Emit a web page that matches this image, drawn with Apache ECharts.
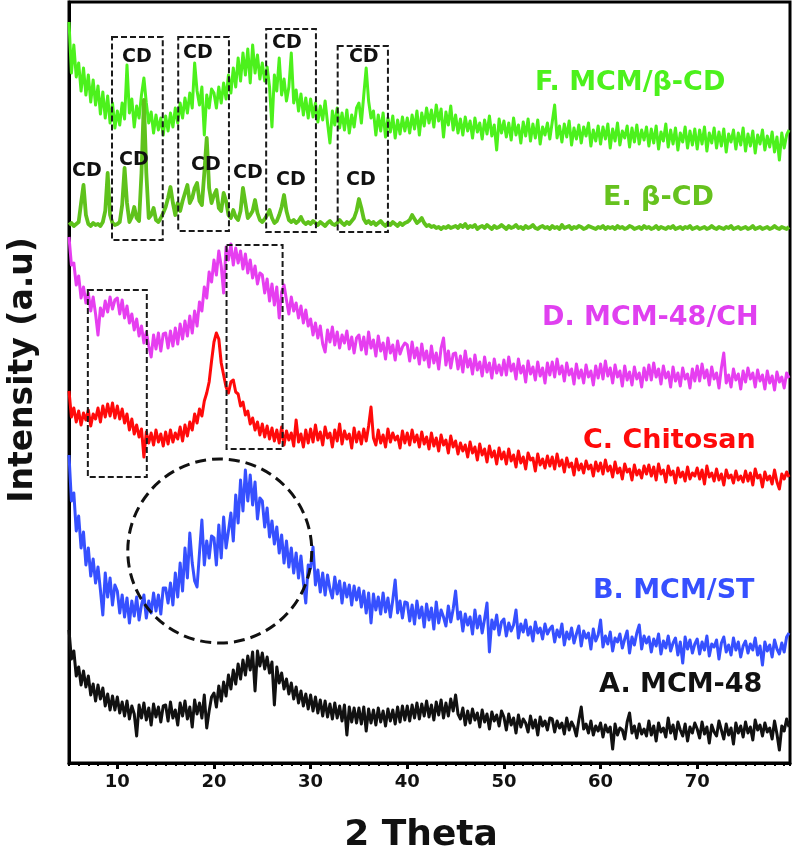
<!DOCTYPE html>
<html><head><meta charset="utf-8">
<script src="https://cdn.jsdelivr.net/npm/echarts@6/dist/echarts.min.js"></script>
<style>html,body{margin:0;padding:0;background:#fff}#c{width:798px;height:853px}</style>
</head><body><div id="c"></div>
<script>
// 2θ grid: first point and step (degrees)
const xStart = 5, xStep = 0.25;
const xTickValues = [10, 20, 30, 40, 50, 60, 70];

const seriesNames = ['F. MCM/β-CD', 'E. β-CD', 'D. MCM-48/CH', 'C. Chitosan', 'B. MCM/ST', 'A. MCM-48'];

// Intensities (a.u., stacked offsets as in the figure), one value per 0.25°, 5° .. 79.5°
const sF = [
741,690,718,686,700,672,695,668,688,661,683,658,677,649,671,645,667,640,660,635,
652,638,660,644,698,650,664,636,657,645,668,685,660,640,651,630,648,633,645,628,
647,632,650,636,655,640,660,645,665,650,670,655,700,672,658,676,628,668,655,674,
670,655,676,660,680,664,688,670,695,676,705,682,710,688,714,680,718,690,708,684,
700,682,696,676,636,688,672,705,668,684,662,676,710,660,673,652,669,648,665,645,
664,646,660,641,657,643,662,640,620,652,638,655,635,650,633,653,630,648,636,655,
660,640,668,695,662,645,652,628,648,632,650,626,645,631,647,625,643,629,646,632,
645,630,648,634,652,628,650,637,655,640,653,636,658,642,654,626,651,638,657,633,
648,630,644,628,646,632,642,625,645,631,640,624,643,629,647,627,638,613,644,630,
642,626,640,623,645,628,638,620,641,627,644,622,639,625,643,619,636,628,640,624,
641,658,625,637,621,639,626,642,618,635,624,638,620,636,627,640,617,633,622,637,
619,636,624,639,615,634,622,640,618,632,625,637,616,635,621,638,619,633,623,636,
617,634,620,637,614,631,622,639,616,633,619,635,613,630,621,636,615,632,618,634,
614,633,619,636,612,630,620,635,615,631,617,634,611,629,621,633,614,630,618,635,
612,629,617,632,610,628,619,633,613,627,616,631,611,626,603,630,615,628,633];
const sE = [
538,540,537,539,541,560,578,548,539,537,540,538,539,537,541,552,590,548,540,538,
539,541,558,595,560,541,546,556,545,542,590,663,590,545,548,555,543,541,545,550,
556,565,576,560,548,560,552,562,570,578,560,565,575,580,562,558,590,625,575,560,
568,573,555,552,570,562,548,545,553,546,543,552,575,560,545,548,552,563,550,543,
541,544,548,553,545,540,542,548,556,568,552,543,541,543,540,542,546,541,539,541,
539,542,540,538,541,539,537,540,542,539,538,540,543,540,538,541,539,542,545,552,
564,555,544,540,542,539,541,538,540,542,539,537,540,538,541,539,537,540,538,540,
541,543,548,544,540,542,545,540,537,538,536,537,535,536,534,536,535,537,535,536,
537,535,538,536,539,535,537,536,538,534,536,537,535,538,536,534,537,535,536,538,
536,534,537,535,536,538,535,536,534,537,535,536,538,535,534,536,537,535,536,534,
537,535,536,534,538,535,536,537,534,536,535,537,536,534,535,537,536,535,534,536,
535,537,534,536,535,536,534,537,535,536,534,535,537,536,534,535,536,534,537,535,
536,534,535,537,534,536,535,534,536,535,537,534,535,536,534,536,535,537,534,535,
536,534,535,536,534,535,537,535,534,536,535,534,536,535,537,534,535,536,534,535,
536,534,535,537,534,535,536,534,535,536,534,535,537,535,534,536,535,534,536];
const sD = [
526,498,500,478,487,465,476,460,470,452,466,449,428,455,447,462,451,466,454,463,
465,449,463,445,457,440,449,433,444,427,437,420,431,417,406,428,414,430,412,429,
430,415,432,417,435,419,439,424,442,427,447,430,452,437,461,452,476,465,491,481,
503,488,512,497,470,516,503,519,498,515,500,512,494,509,490,503,485,497,479,490,
488,470,484,462,479,458,476,445,471,478,463,449,466,452,460,445,457,440,453,437,
444,428,440,425,437,419,411,433,421,436,418,431,415,428,420,432,414,426,410,425,
428,413,426,409,431,415,423,407,427,412,420,404,425,410,418,403,422,409,416,420,
418,402,421,405,415,399,419,403,412,396,417,400,410,394,415,425,398,412,395,409,
410,394,407,391,412,396,404,389,408,393,401,387,406,391,400,385,404,390,398,388,
403,388,406,392,399,384,404,390,397,381,402,389,396,383,401,387,395,380,400,388,
401,386,404,389,397,382,400,388,394,379,399,385,393,380,398,386,392,378,397,385,
399,384,402,387,395,380,398,386,392,377,397,383,391,378,396,384,390,376,395,383,
398,383,400,386,394,379,397,385,391,376,396,382,390,377,395,384,389,375,394,382,
397,382,399,385,393,378,396,384,390,375,395,410,380,388,376,394,383,389,374,392,
381,395,384,390,376,393,382,388,374,392,380,387,373,391,381,386,375,390,385];
const sC = [
372,346,355,341,352,338,350,343,353,337,349,344,355,341,357,346,359,347,360,345,
357,344,354,340,349,333,344,329,338,326,334,306,331,320,330,318,333,321,329,317,
331,319,333,321,330,324,336,322,338,327,341,333,349,340,354,347,362,370,381,402,
421,430,424,400,388,376,370,381,383,371,369,357,361,348,352,339,345,333,341,328,
339,326,337,324,335,322,333,320,336,318,332,323,330,317,343,321,329,316,333,320,
334,321,338,323,331,318,336,325,330,316,333,322,339,319,332,324,329,315,335,321,
331,319,334,322,337,356,325,318,333,320,328,316,334,321,330,323,327,315,332,320,
330,318,333,321,328,316,331,319,326,314,330,317,325,312,328,318,323,310,327,316,
322,309,320,312,318,306,321,310,316,303,319,308,314,301,317,306,312,299,315,304,
311,299,314,302,308,296,312,300,306,294,310,303,305,292,309,298,304,295,307,297,
306,294,309,297,303,291,305,296,300,288,304,293,299,290,302,294,298,287,301,292,
300,289,303,292,297,286,301,290,295,284,299,291,294,283,298,288,293,285,297,289,
298,287,296,283,299,289,293,281,297,288,292,280,295,286,291,282,296,284,290,287,
295,284,293,279,297,286,290,282,294,283,289,278,293,285,288,280,292,283,287,281,
292,282,290,278,294,285,288,276,291,283,287,279,293,281,274,289,284,291,286];
const sB = [
308,262,270,232,247,215,231,198,215,187,204,180,196,173,148,190,166,185,158,178,
172,150,168,146,165,140,162,147,166,143,158,168,145,162,150,170,152,168,149,175,
175,160,180,158,190,166,200,172,215,185,230,200,182,176,210,243,198,222,205,227,
225,198,238,205,246,215,232,250,222,268,240,283,252,293,262,288,258,281,244,265,
262,236,255,226,242,219,236,210,228,200,222,196,215,190,210,185,207,181,160,198,
195,216,178,193,171,190,168,188,174,165,186,169,182,160,180,166,178,158,177,163,
175,156,172,150,170,140,169,153,166,149,170,151,165,146,163,183,150,162,145,161,
160,142,158,139,162,145,156,136,159,143,155,134,161,140,153,146,137,157,141,154,
172,144,151,132,149,138,146,129,153,135,147,130,144,160,111,143,134,148,128,141,
144,127,140,132,138,153,125,139,131,143,128,136,122,141,130,135,124,139,129,134,
137,121,133,126,139,118,131,124,135,120,129,137,117,132,125,130,114,134,122,128,
143,116,127,119,131,112,125,121,129,115,124,132,110,126,118,130,138,114,127,120,
126,111,124,117,129,109,122,115,127,112,120,125,108,121,100,126,114,123,110,119,
124,109,121,113,127,107,119,116,123,104,120,126,111,118,108,125,113,121,106,117,
122,110,119,113,125,108,117,98,121,112,118,106,123,114,109,120,111,126,130];
const sA = [
133,104,112,87,96,78,92,76,87,68,79,62,78,64,75,57,69,53,67,53,
66,50,61,47,62,44,57,49,27,58,45,60,43,55,38,59,46,56,41,57,
58,42,61,45,53,38,60,47,62,44,56,36,63,49,60,45,68,35,52,66,
70,56,77,62,81,67,88,74,93,79,99,84,103,88,107,93,111,72,112,97,
110,94,106,90,101,58,96,80,90,74,84,69,80,64,76,60,72,57,69,54,
68,52,66,50,63,47,62,46,59,44,60,45,57,42,58,28,56,41,55,40,
55,39,56,32,54,40,53,38,55,41,52,37,54,42,53,39,56,41,57,43,
57,42,58,45,60,44,59,47,62,46,58,43,61,48,63,45,60,47,64,52,
68,49,44,55,38,52,40,54,43,50,36,53,41,49,34,51,42,48,37,52,
46,33,49,38,45,30,48,36,44,40,31,47,35,43,28,46,37,42,33,45,
44,31,42,35,40,29,45,33,41,36,27,43,56,34,39,30,42,28,37,32,
40,26,38,31,36,14,39,28,35,33,24,41,50,30,37,25,39,29,34,27,
42,28,37,22,40,31,35,26,45,30,38,24,41,33,27,39,22,36,30,40,
34,25,41,29,36,20,38,31,27,42,33,24,39,28,35,19,40,30,37,26,
41,30,36,23,43,33,38,27,40,31,35,24,42,29,13,37,32,44,36];

const seriesValues = [sF, sE, sD, sC, sB, sA];
const seriesColors = ['#4cf11c', '#5fc21c', '#e63ef0', '#ff0a0a', '#3650ff', '#111111'];
const seriesWidths = [3, 3.8, 3, 3, 3, 3];

// annotations in data coordinates: [2θ left, 2θ right, top, bottom]
const cdBoxes = [[9.45,14.7,726,523],[16.3,21.55,726,532],[25.4,30.55,734,531],[32.8,38.0,717,531],[6.95,13.05,473,286],[21.3,27.1,518,314]];
const cdLabelPos = [[12.03,706],[18.34,710],[27.54,720],[35.5,706],[6.86,592],[11.72,603],[19.17,598],[23.51,590],[27.96,583],[35.2,583]];
const circleCenter = [20.6, 212];

function toPairs(vals){ return vals.map((v,i)=>[xStart + i*xStep, v]); }

const chart = echarts.init(document.getElementById('c'));
const option = {
  animation: false,
  backgroundColor: '#fff',
  grid: { left: 69, right: 8, top: 2, bottom: 90, show: true, borderColor: '#000', borderWidth: 3, containLabel: false },
  xAxis: [
    { type: 'value', min: 5, max: 79.6, gridIndex: 0,
      axisLine: { show: true, lineStyle: { color: '#000', width: 3 } },
      axisTick: { show: true, customValues: xTickValues, length: 6, lineStyle: { color: '#000', width: 3 } },
      axisLabel: { show: true, customValues: xTickValues, color: '#111', fontSize: 18, fontWeight: 'bold', fontFamily: 'DejaVu Sans', margin: 10 },
      splitLine: { show: false } },
    { type: 'value', min: 5, max: 79.6, interval: 1, gridIndex: 0, position: 'bottom',
      axisLine: { show: false }, axisLabel: { show: false }, splitLine: { show: false },
      axisTick: { show: true, length: 3, lineStyle: { color: '#000', width: 2 } } }
  ],
  yAxis: { type: 'value', min: 0, max: 761,
    axisLine: { show: true, lineStyle: { color: '#000', width: 3 } },
    axisTick: { show: false }, axisLabel: { show: false }, splitLine: { show: false } },
  series: seriesValues.map((vals, k) => ({
    name: seriesNames[k], type: 'line', xAxisIndex: 0, yAxisIndex: 0,
    data: toPairs(vals), showSymbol: false, symbol: 'none',
    lineStyle: { color: seriesColors[k], width: seriesWidths[k], join: 'round' }, z: 2 + k
  }))
};
chart.setOption(option);

const toPx = p => chart.convertToPixel({ xAxisIndex: 0, yAxisIndex: 0 }, p);
const g = [];
cdBoxes.forEach(b => {
  const p0 = toPx([b[0], b[2]]), p1 = toPx([b[1], b[3]]);
  g.push({ type: 'rect', z: 100, shape: { x: p0[0], y: p0[1], width: p1[0]-p0[0], height: p1[1]-p0[1] },
    style: { fill: 'rgba(0,0,0,0)', stroke: '#1a1a1a', lineWidth: 2, lineDash: [6, 3] } });
});
cdLabelPos.forEach(p => {
  const q = toPx(p);
  g.push({ type: 'text', z: 101, x: q[0], y: q[1], style: { text: 'CD', fill: '#111', font: 'bold 19px "DejaVu Sans"', align: 'center', verticalAlign: 'middle' } });
});
const cc = toPx(circleCenter);
g.push({ type: 'circle', z: 100, shape: { cx: cc[0], cy: cc[1], r: 92 },
  style: { fill: 'rgba(0,0,0,0)', stroke: '#111', lineWidth: 3, lineDash: [11, 6] } });

const nameLabels = [
  { x: 535, y: 83 }, { x: 603, y: 198 }, { x: 542, y: 318 },
  { x: 583, y: 441 }, { x: 593, y: 591 }, { x: 599, y: 685 }
];
const labelColors = ['#4cf11c', '#66c21e', '#e040f0', '#ff0a0a', '#3650ff', '#111111'];
nameLabels.forEach((p, k) => {
  g.push({ type: 'text', z: 101, x: p.x, y: p.y, style: { text: seriesNames[k], fill: labelColors[k], font: 'bold 27px "DejaVu Sans"', align: 'left', verticalAlign: 'middle' } });
});
g.push({ type: 'text', z: 101, x: 421, y: 836, style: { text: '2 Theta', fill: '#111', font: 'bold 36px "DejaVu Sans"', align: 'center', verticalAlign: 'middle' } });
g.push({ type: 'text', z: 101, x: 23, y: 370, rotation: Math.PI / 2, style: { text: 'Intensity (a.u)', fill: '#111', font: 'bold 33px "DejaVu Sans"', align: 'center', verticalAlign: 'middle' } });
chart.setOption({ graphic: g });
</script>
</body></html>
